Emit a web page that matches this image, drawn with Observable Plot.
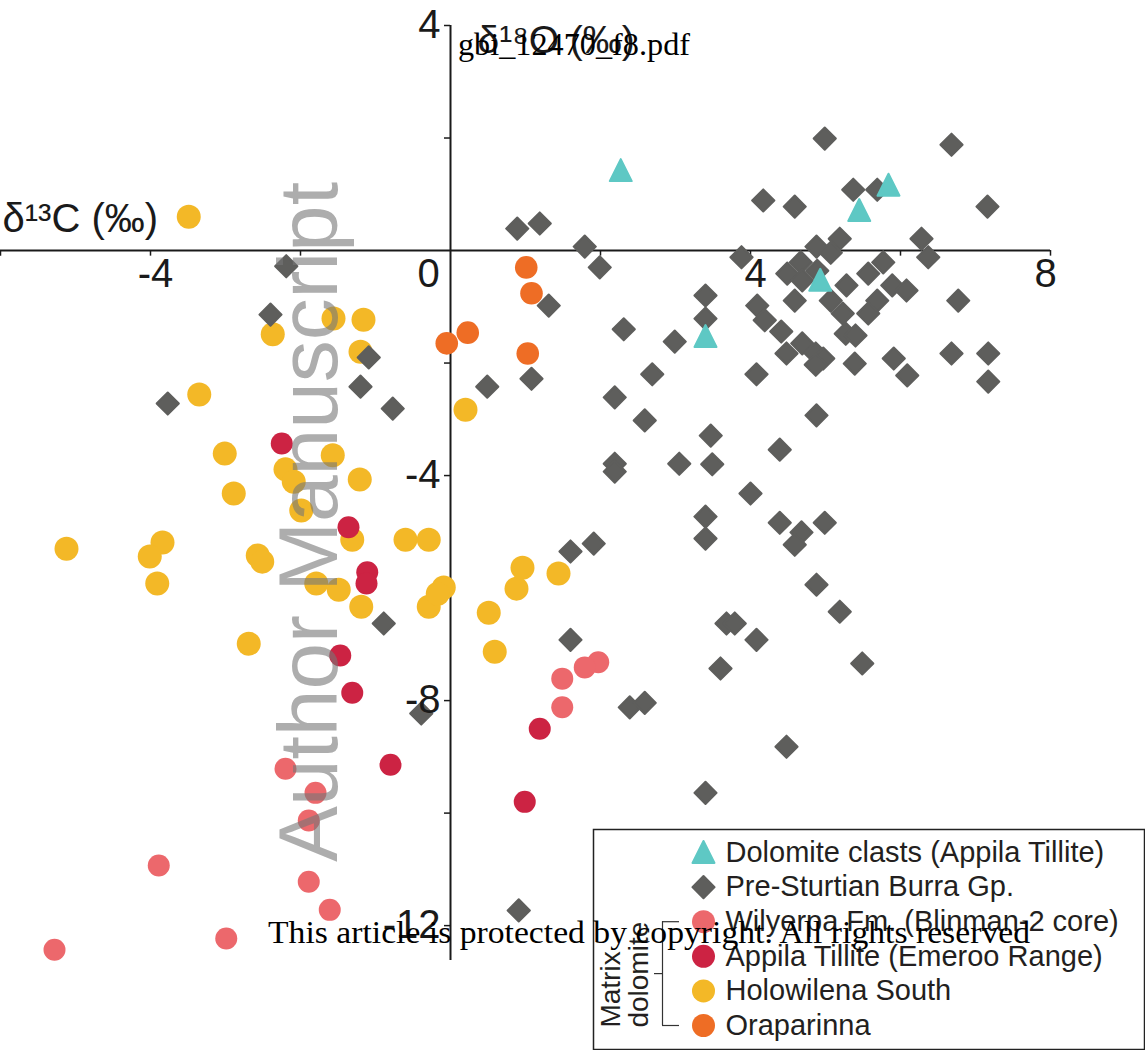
<!DOCTYPE html>
<html>
<head>
<meta charset="utf-8">
<script src="https://cdn.jsdelivr.net/npm/d3@7"></script>
<script src="https://cdn.jsdelivr.net/npm/@observablehq/plot@0.6"></script>
<style>
  html, body { margin: 0; padding: 0; background: #fff; }
  #wrap { position: relative; width: 1145px; height: 1050px; overflow: hidden; }
  #wrap > svg, #wrap > figure { position: absolute; margin: 0; }
</style>
</head>
<body>
<div id="wrap"></div>
<script>
// ---------------- data (δ13C, δ18O) ----------------
const seriesNames = [
  "Dolomite clasts (Appila Tillite)",
  "Pre-Sturtian Burra Gp.",
  "Wilyerpa Fm. (Blinman-2 core)",
  "Appila Tillite (Emeroo Range)",
  "Holowilena South",
  "Oraparinna"
];
const seriesColors = ["#5ec8c4", "#5e5e5c", "#ec686c", "#cc2343", "#f3b827", "#ee6d25"];

const dolomiteClasts = [[2.27,1.42],[5.84,1.16],[5.45,0.71],[4.93,-0.53],[3.40,-1.53]];

const burraGp = [
  [-2.19,-0.28],[-2.40,-1.14],[-3.77,-2.72],[-1.09,-1.90],[-1.20,-2.42],[-0.77,-2.81],
  [-0.89,-6.63],[-0.39,-8.23],[0.91,-11.73],
  [0.89,0.39],[1.19,0.48],[1.79,0.07],[1.99,-0.30],[1.31,-0.98],[0.49,-2.42],[1.08,-2.28],
  [2.31,-1.40],[2.99,-1.62],[3.40,-0.80],[3.40,-1.21],[2.69,-2.20],[2.19,-2.61],[2.59,-3.02],
  [3.47,-3.29],[2.19,-3.79],[2.19,-3.93],[3.05,-3.79],[3.49,-3.80],[3.88,-0.12],[4.17,0.89],
  [4.99,1.99],[6.68,1.88],[4.59,0.78],[5.37,1.08],[5.69,1.08],[7.16,0.78],[4.88,0.07],
  [5.19,0.21],[5.07,-0.04],[6.28,0.21],[6.37,-0.12],[4.67,-0.21],[4.49,-0.41],[4.69,-0.53],
  [4.89,-0.36],[5.77,-0.21],[5.57,-0.41],[5.28,-0.62],[5.89,-0.62],[6.08,-0.71],[6.77,-0.89],
  [4.09,-0.98],[4.59,-0.89],[5.07,-0.89],[5.69,-0.89],[4.19,-1.24],[4.41,-1.44],[4.48,-1.83],
  [4.69,-1.65],[4.87,-1.83],[4.97,-1.92],[4.87,-2.03],[5.23,-1.12],[5.27,-1.48],[5.40,-1.51],
  [5.57,-1.12],[5.39,-2.01],[5.91,-1.92],[6.09,-2.22],[6.68,-1.83],[7.17,-1.83],[7.17,-2.33],
  [4.08,-2.20],[4.88,-2.93],[4.39,-3.54],[4.00,-4.32],
  [3.40,-4.73],[3.40,-5.12],[4.39,-4.84],[4.68,-5.01],[4.59,-5.23],[4.99,-4.84],[4.88,-5.94],
  [5.19,-6.42],[3.68,-6.63],[3.79,-6.63],[4.08,-6.92],[5.49,-7.34],[3.60,-7.43],[2.39,-8.12],
  [2.59,-8.04],[4.48,-8.82],[3.40,-9.64],[1.60,-5.35],[1.91,-5.21],[1.60,-6.92]
];

const wilyerpaFm = [
  [1.97,-7.32],[1.79,-7.41],[1.49,-7.61],[1.49,-8.12],[-2.20,-9.21],[-1.80,-9.64],
  [-1.89,-10.13],[-3.89,-10.93],[-1.89,-11.22],[-1.61,-11.72],[-2.99,-12.23],[-5.28,-12.43]
];

const appilaTillite = [
  [-2.25,-3.43],[-1.36,-4.92],[-1.11,-5.72],[-1.12,-5.92],[-1.47,-7.20],[-1.31,-7.86],
  [-0.80,-9.14],[1.19,-8.50],[0.99,-9.80]
];

const holowilenaSouth = [
  [-3.49,0.60],[-2.37,-1.49],[-1.56,-1.21],[-1.16,-1.23],[-1.20,-1.80],[0.20,-2.83],
  [-3.35,-2.56],[-3.01,-3.61],[-1.57,-3.64],[-2.20,-3.89],[-2.09,-4.11],[-1.21,-4.07],
  [-2.89,-4.32],[-1.99,-4.62],[-1.31,-5.14],[-0.60,-5.14],[-0.29,-5.14],[-5.12,-5.30],
  [-3.84,-5.19],[-4.01,-5.44],[-2.57,-5.42],[-2.51,-5.53],[-3.91,-5.92],[-1.79,-5.92],
  [-1.49,-6.03],[-1.19,-6.33],[-0.29,-6.33],[-0.09,-5.99],[-0.17,-6.10],[-2.69,-6.99],
  [0.51,-6.44],[0.59,-7.13],[0.88,-6.01],[0.96,-5.64],[1.44,-5.74]
];

const oraparinna = [[1.01,-0.30],[1.08,-0.76],[0.23,-1.46],[-0.05,-1.65],[1.03,-1.83]];

// axes
const xDomain = [-6, 8];
const yDomain = [-12.62, 4];
const xTickValues = [-6, -4, -2, 2, 4, 6, 8];
const yTickValues = [4, 2, -2, -4, -6, -8, -10, -12];
const xTickLabels = [-4, 0, 4, 8];
const yTickLabels = [4, -4, -8, -12];
const xTitle = "δ¹³C (‰)";
const yTitle = "δ¹⁸O (‰)";

// ---------------- drawing ----------------
const ink = "#1a1a1a";
const sans = "'Liberation Sans', Arial, Helvetica, sans-serif";
const serif = "'Liberation Serif', 'Times New Roman', serif";

const triangleUp = {
  draw(ctx, size) {
    const r = Math.sqrt(size / Math.PI);
    ctx.moveTo(0, -r * 1.05);
    ctx.lineTo(r * 1.0, r * 0.95);
    ctx.lineTo(-r * 1.0, r * 0.95);
    ctx.closePath();
  }
};

const px = d => d[0], py = d => d[1];

const main = Plot.plot({
  width: 1145,
  height: 1050,
  marginLeft: 0,
  marginRight: 95,
  marginTop: 25,
  marginBottom: 90,
  x: {domain: xDomain, axis: null},
  y: {domain: yDomain, axis: null},
  style: {fontFamily: sans, overflow: "visible", background: "transparent"},
  marks: [
    Plot.ruleY([0], {x1: xDomain[0], x2: xDomain[1], stroke: ink, strokeWidth: 2}),
    Plot.ruleX([0], {y1: yDomain[0], y2: yDomain[1], stroke: ink, strokeWidth: 2}),
    Plot.ruleX(xTickValues, {x: d => d, y1: 0, y2: -0.1, stroke: ink, strokeWidth: 1.5}),
    Plot.ruleY(yTickValues, {y: d => d, x1: 0, x2: -0.08, stroke: ink, strokeWidth: 1.5}),

    Plot.dot(holowilenaSouth, {x: px, y: py, r: 12, fill: seriesColors[4]}),
    Plot.dot(appilaTillite, {x: px, y: py, r: 11, fill: seriesColors[3]}),
    Plot.dot(wilyerpaFm, {x: px, y: py, r: 11, fill: seriesColors[2]}),
    Plot.dot(burraGp, {x: px, y: py, r: 10, symbol: "diamond2", fill: seriesColors[1],
      stroke: seriesColors[1], strokeWidth: 2, strokeLinejoin: "round"}),
    Plot.dot(oraparinna, {x: px, y: py, r: 11.3, fill: seriesColors[5]}),
    Plot.dot(dolomiteClasts, {x: px, y: py, r: 11, symbol: triangleUp, fill: seriesColors[0],
      stroke: seriesColors[0], strokeWidth: 2, strokeLinejoin: "round"}),

    Plot.text(xTickLabels.filter(v => v === -4 || v === 4), {x: d => d, y: 0, text: d => String(d), dy: 24, dx: 5, fontSize: 40, fill: ink}),
    Plot.text(xTickLabels.filter(v => v === 0), {x: d => d, y: 0, text: d => String(d), dy: 24, dx: -22, fontSize: 40, fill: ink}),
    Plot.text(xTickLabels.filter(v => v === 8), {x: d => d, y: 0, text: d => String(d), dy: 24, dx: -5, fontSize: 40, fill: ink}),
    Plot.text(yTickLabels, {x: 0, y: d => d, text: d => String(d), textAnchor: "end", dx: -10, fontSize: 40, fill: ink}),

    Plot.text([xTitle], {x: xDomain[0], y: 0, text: d => d, textAnchor: "start", dx: 2, dy: -31, fontSize: 40, fill: ink}),
    Plot.text([yTitle], {x: 0, y: yDomain[1], text: d => d, textAnchor: "start", dx: 27, dy: 15, fontSize: 39, fill: ink})
  ]
});
main.style.left = "0px";
main.style.top = "0px";

// legend
const legendRows = seriesNames.map((name, i) => ({name, i, color: seriesColors[i]}));
const legend = Plot.plot({
  width: 553,
  height: 222,
  margin: 0,
  x: {domain: [0, 553], range: [0, 553], axis: null},
  y: {domain: [0, 5], range: [24, 197], axis: null},
  style: {fontFamily: sans, background: "transparent", overflow: "visible"},
  marks: [
    Plot.frame({fill: "white", stroke: "#222", strokeWidth: 1.5, inset: 1}),
    Plot.dot(legendRows.filter(d => d.i === 0), {x: 111, y: "i", r: 11, symbol: triangleUp, fill: "color",
      stroke: "color", strokeWidth: 2, strokeLinejoin: "round"}),
    Plot.dot(legendRows.filter(d => d.i === 1), {x: 111, y: "i", r: 10, symbol: "diamond2", fill: "color",
      stroke: "color", strokeWidth: 2, strokeLinejoin: "round"}),
    Plot.dot(legendRows.filter(d => d.i >= 2), {x: 111, y: "i", r: 11.5, fill: "color"}),
    Plot.text(legendRows, {x: 133, y: "i", text: "name", textAnchor: "start", fontSize: 29, fill: "#231f20"}),
    Plot.ruleX([70], {y1: 2, y2: 5, stroke: "#333", strokeWidth: 1.2}),
    Plot.ruleY([2, 5], {x1: 70, x2: 87, stroke: "#333", strokeWidth: 1.2}),
    Plot.ruleY([3.5], {x1: 62, x2: 70, stroke: "#333", strokeWidth: 1.2}),
    Plot.text(["Matrix"], {x: 27, y: 5.06, text: d => d, rotate: -90, textAnchor: "start", lineAnchor: "bottom", fontSize: 28, fill: "#231f20"}),
    Plot.text(["dolomite"], {x: 55, y: 5.06, text: d => d, rotate: -90, textAnchor: "start", lineAnchor: "bottom", fontSize: 28, fill: "#231f20"})
  ]
});
legend.style.left = "592px";
legend.style.top = "828px";

// watermark overlay (text only)
const overlay = d3.create("svg")
  .attr("width", 1145).attr("height", 1050)
  .style("left", "0px").style("top", "0px").style("pointer-events", "none");
overlay.append("text")
  .attr("transform", "translate(337,522) rotate(-90)")
  .attr("text-anchor", "middle")
  .attr("font-family", sans).attr("font-size", 84)
  .attr("fill", "#777").attr("fill-opacity", 0.6)
  .attr("textLength", 680).attr("lengthAdjust", "spacingAndGlyphs")
  .text("Author Manuscript");
overlay.append("text")
  .attr("x", 458).attr("y", 55)
  .attr("font-family", serif).attr("font-size", 32).attr("fill", "#000")
  .attr("textLength", 232).attr("lengthAdjust", "spacingAndGlyphs")
  .text("gbi_12470_f8.pdf");
overlay.append("text")
  .attr("x", 268).attr("y", 943)
  .attr("font-family", serif).attr("font-size", 31).attr("fill", "#000")
  .attr("textLength", 762).attr("lengthAdjust", "spacingAndGlyphs")
  .text("This article is protected by copyright. All rights reserved");

const wrap = document.getElementById("wrap");
wrap.appendChild(main);
wrap.appendChild(legend);
wrap.appendChild(overlay.node());
</script>
</body>
</html>
